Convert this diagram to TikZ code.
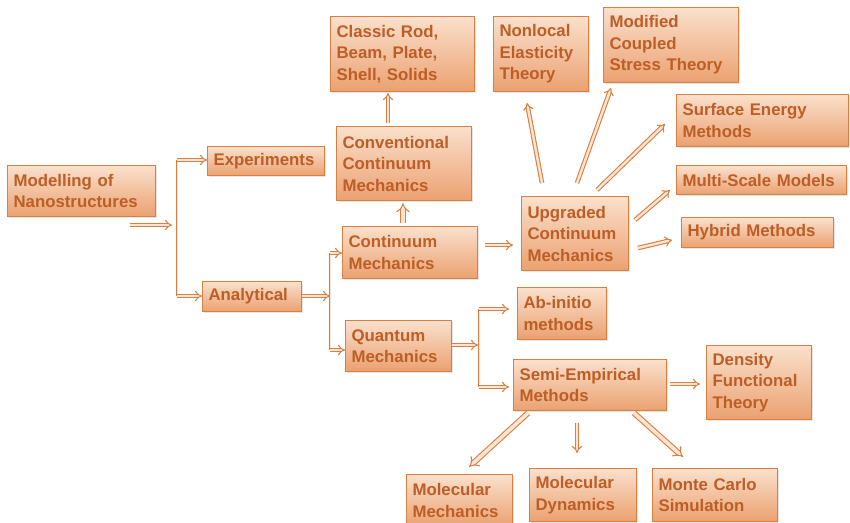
\documentclass[tikz,border=0pt]{standalone}
\usepackage{fontspec}
\setmainfont{Liberation Sans}
\usetikzlibrary{arrows.meta,shadows}
\definecolor{boxtop}{HTML}{FAE0CC}
\definecolor{boxbot}{HTML}{EBA170}
\definecolor{bordc}{HTML}{D8803F}
\definecolor{txtc}{HTML}{BE5E26}
\definecolor{arrin}{HTML}{FBE4D3}
\tikzset{
  box/.style={draw=bordc, line width=1.1pt, top color=boxtop, bottom color=boxbot,
    font=\bfseries\fontsize{16.8}{21.5}\selectfont, text=txtc, inner xsep=6pt, inner ysep=3pt,
    align=left, anchor=north west,
    drop shadow={opacity=0.2, shadow xshift=1.2pt, shadow yshift=-1.2pt}},
  harr/.style={draw=bordc, line width=1.1pt, double=arrin, double distance=2.4pt,
    -{Implies[length=6pt]}},
  fatarr/.style={draw=bordc, line width=1.1pt, double=arrin, double distance=3.6pt,
    -{Implies[length=6pt]}},
  bline/.style={draw=bordc, line width=0.9pt, double=arrin, double distance=0.7pt},
}
\newcommand{\bx}[6]{%
  \pgfmathsetmacro\mytw{#4-12}%
  \node[box, text width=\mytw pt, minimum height=#5pt] (#1) at (#2,#3) {#6};}
\begin{document}
\begin{tikzpicture}[x=1pt,y=-1pt]
\useasboundingbox[fill=white] (0,0) rectangle (850,522);
% boxes
\bx{mod}{7}{165}{148}{51}{Modelling of\\Nanostructures}
\bx{exp}{207}{146}{117}{29}{Experiments}
\bx{ana}{202}{281}{99}{30}{Analytical}
\bx{crb}{330}{16}{144}{75}{Classic Rod,\\Beam, Plate,\\Shell, Solids}
\bx{ccm}{336}{126}{135}{74}{Conventional\\Continuum\\Mechanics}
\bx{cm}{342}{226}{135}{52}{Continuum\\Mechanics}
\bx{nle}{493}{16}{95}{75}{Nonlocal\\Elasticity\\Theory}
\bx{mcs}{603}{7}{135}{75}{Modified\\Coupled\\Stress Theory}
\bx{ucm}{521}{196}{107}{74}{Upgraded\\Continuum\\Mechanics}
\bx{sem}{676}{94}{172}{52}{Surface Energy\\Methods}
\bx{msm}{676}{165}{170}{29}{Multi-Scale Models}
\bx{hyb}{681}{217}{152}{30}{Hybrid Methods}
\bx{qm}{345}{320}{106}{51}{Quantum\\Mechanics}
\bx{abi}{517}{287}{89}{52}{Ab-initio\\methods}
\bx{sep}{513}{359}{153}{51}{Semi-Empirical\\Methods}
\bx{dft}{706}{345}{105}{74}{Density\\Functional\\Theory}
\bx{mm}{406}{474}{106}{52}{Molecular\\Mechanics}
\bx{md}{529}{468}{107}{53}{Molecular\\Dynamics}
\bx{mc}{652}{468}{125}{53}{Monte Carlo\\Simulation}
% coordinates
\coordinate (m1) at (130,225);
\coordinate (m2) at (172,225);
\coordinate (b1t) at (177,160);
\coordinate (b1b) at (177,296);
\coordinate (a2) at (330,296);
\coordinate (b2t) at (330,253);
\coordinate (b2b) at (330,350);
\coordinate (q2) at (478,345);
\coordinate (b3t) at (479,309);
\coordinate (b3b) at (479,387);
% first level
\draw[harr] (m1) -- (m2);
\draw[bline] (b1t) -- (b1b);
\draw[harr] (b1t) -- (exp.west |- b1t);
\draw[harr] (b1b) -- (ana.west |- b1b);
\draw[harr] (ana.east |- a2) -- (a2);
\draw[bline] (b2t) -- (b2b);
\draw[harr] (b2t) -- (cm.west |- b2t);
\draw[harr] (b2b) -- (qm.west |- b2b);
% continuum
\draw[fatarr, shorten <=3pt, shorten >=2pt] (cm.north -| 403,0) -- (ccm.south -| 403,0);
\draw[harr, shorten <=3pt, shorten >=1pt] (ccm.north -| 388,0) -- (crb.south -| 388,0);
\draw[harr] (485,245) coordinate (c1) -- (513,245) coordinate (c2);
% upgraded fan
\draw[harr] (542,183) coordinate (u1) -- (527,103) coordinate (u1e);
\draw[harr] (577,183) coordinate (u2) -- (611,88) coordinate (u2e);
\draw[harr] (597,190) coordinate (u3) -- (665,124) coordinate (u3e);
\draw[harr] (635,220) coordinate (u4) -- (670,190) coordinate (u4e);
\draw[harr] (638,248) coordinate (u5) -- (672,240) coordinate (u5e);
% quantum
\draw[harr] (qm.east |- q2) -- (q2);
\draw[bline] (b3t) -- (b3b);
\draw[harr, shorten >=8pt] (b3t) -- (abi.west |- b3t);
\draw[harr, shorten >=4pt] (b3b) -- (sep.west |- b3b);
\draw[harr] (670,384) coordinate (s0) -- (700,384) coordinate (s0e);
\draw[fatarr] (528,413) coordinate (s1) -- (469,467) coordinate (s1e);
\draw[harr] (577,423) coordinate (s2) -- (577,453) coordinate (s2e);
\draw[fatarr] (634,413) coordinate (s3) -- (683,457) coordinate (s3e);
\end{tikzpicture}
\end{document}
